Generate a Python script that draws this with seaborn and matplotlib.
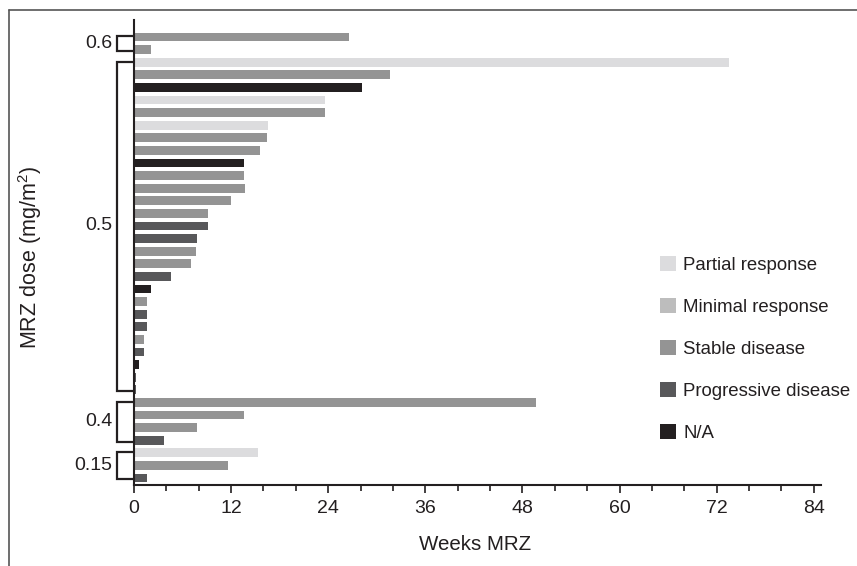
import matplotlib
matplotlib.use("Agg")
import matplotlib.pyplot as plt
from matplotlib.patches import Patch
from matplotlib.lines import Line2D
import matplotlib.transforms as mtransforms
import numpy as np
import pandas as pd
import seaborn as sns

# ---------------- data ----------------
weeks = [26.6, 2.1,
         73.5, 31.6, 28.2, 23.6, 23.6, 16.6, 16.4, 15.6, 13.6, 13.6, 13.7,
         12.0, 9.1, 9.1, 7.8, 7.7, 7.0, 4.6, 2.1, 1.6, 1.6, 1.6, 1.2, 1.2,
         0.6, 0.2, 0.2,
         49.7, 13.6, 7.8, 3.7,
         15.3, 11.6, 1.6]
response = ["SD", "SD",
            "PR", "SD", "NA", "PR", "SD", "PR", "SD", "SD", "NA", "SD", "SD",
            "SD", "SD", "PD", "PD", "SD", "SD", "PD", "NA", "SD", "PD", "PD",
            "SD", "PD", "NA", "PD", "PD",
            "SD", "SD", "SD", "PD",
            "PR", "SD", "PD"]
dose_labels = ["0.6", "0.5", "0.4", "0.15"]
dose_counts = [2, 27, 4, 3]
resp_codes = ["PR", "MR", "SD", "PD", "NA"]
resp_names = ["Partial response", "Minimal response", "Stable disease",
              "Progressive disease", "N/A"]
x_ticks = [0, 12, 24, 36, 48, 60, 72, 84]

# ---------------- style ----------------
sns.set_theme(style="white")
plt.rcParams["font.family"] = ["Liberation Sans", "DejaVu Sans"]
plt.rcParams["mathtext.fontset"] = "custom"
plt.rcParams["mathtext.rm"] = "Liberation Sans"
plt.rcParams["mathtext.it"] = "Liberation Sans"
plt.rcParams["mathtext.default"] = "regular"
ink = "#231f20"
palette = {"PR": "#dcdcde", "MR": "#bdbdbd", "SD": "#949494",
           "PD": "#58585a", "NA": "#231f20"}

df = pd.DataFrame({
    "bar": [f"b{i:02d}" for i in range(len(weeks))],
    "weeks": weeks,
    "response": response,
})

W, H = 857, 566
fig = plt.figure(figsize=(W / 100, H / 100), dpi=100)
ax_l, ax_r, ax_t, ax_b = 134, 821, 20, 485
ax = fig.add_axes([ax_l / W, (H - ax_b) / H, (ax_r - ax_l) / W, (ax_b - ax_t) / H])

sns.barplot(data=df, x="weeks", y="bar", hue="response", palette=palette,
            hue_order=resp_codes, dodge=False, width=0.7, orient="h",
            legend=False, ax=ax, saturation=1, linewidth=0)

ax.set_xlim(0, 84.9)
ax.set_ylim(35.56, -1.35)
ax.set_xticks(x_ticks)
ax.set_xticks(np.arange(0, 85, 4), minor=True)
ax.tick_params(axis="x", which="major", length=6, width=1.2, color=ink,
               labelsize=14, labelcolor=ink, direction="out", bottom=True, pad=5)
ax.tick_params(axis="x", which="minor", length=4.5, width=1.2, color=ink,
               direction="out", bottom=True)
ax.set_yticks([])
ax.set_xlabel("")
ax.set_ylabel("")
for s in ["top", "right"]:
    ax.spines[s].set_visible(False)
for s in ["left", "bottom"]:
    ax.spines[s].set_color(ink)
    ax.spines[s].set_linewidth(1.5)

# dose brackets
trans = mtransforms.blended_transform_factory(ax.transAxes, ax.transData)
bx = (117.3 - ax_l) / (ax_r - ax_l)
lx = (112 - ax_l) / (ax_r - ax_l)
start = 0
for lab, cnt in zip(dose_labels, dose_counts):
    top = start - 0.05
    bot = start + cnt - 1 + 0.12
    ax.add_line(Line2D([0, bx, bx, 0], [top, top, bot, bot], transform=trans,
                       color=ink, lw=1.6, clip_on=False, solid_joinstyle="miter"))
    mid = start + (cnt - 1) / 2
    ax.text(lx, mid, lab, transform=trans, ha="right", va="center",
            fontsize=14, color=ink)
    start += cnt

# legend
handles = [Patch(facecolor=palette[c], edgecolor="none", label=n)
           for c, n in zip(resp_codes, resp_names)]
leg = ax.legend(handles=handles, loc="upper left",
                bbox_to_anchor=((660 - ax_l) / (ax_r - ax_l), (ax_b - 256) / (ax_b - ax_t)),
                frameon=False, fontsize=13.4, handlelength=0.86, handleheight=0.86,
                handletextpad=0.4, labelspacing=1.3, borderpad=0, borderaxespad=0)
for t in leg.get_texts():
    t.set_color(ink)

# axis labels
fig.text(475 / W, 1 - 544 / H, "Weeks MRZ", ha="center", va="center",
         fontsize=14.8, color=ink)
fig.text(30 / W, 1 - 258 / H, "MRZ dose (mg/m$^{2}$)", ha="center", va="center",
         rotation=90, fontsize=15.5, color=ink)

# figure frame lines (top and left)
fig.add_artist(Line2D([9 / W, 1], [1 - 10 / H, 1 - 10 / H], transform=fig.transFigure,
                      color="#555555", lw=1.2))
fig.add_artist(Line2D([9 / W, 9 / W], [0, 1 - 10 / H], transform=fig.transFigure,
                      color="#555555", lw=1.2))

fig.savefig("out.png", dpi=100)
